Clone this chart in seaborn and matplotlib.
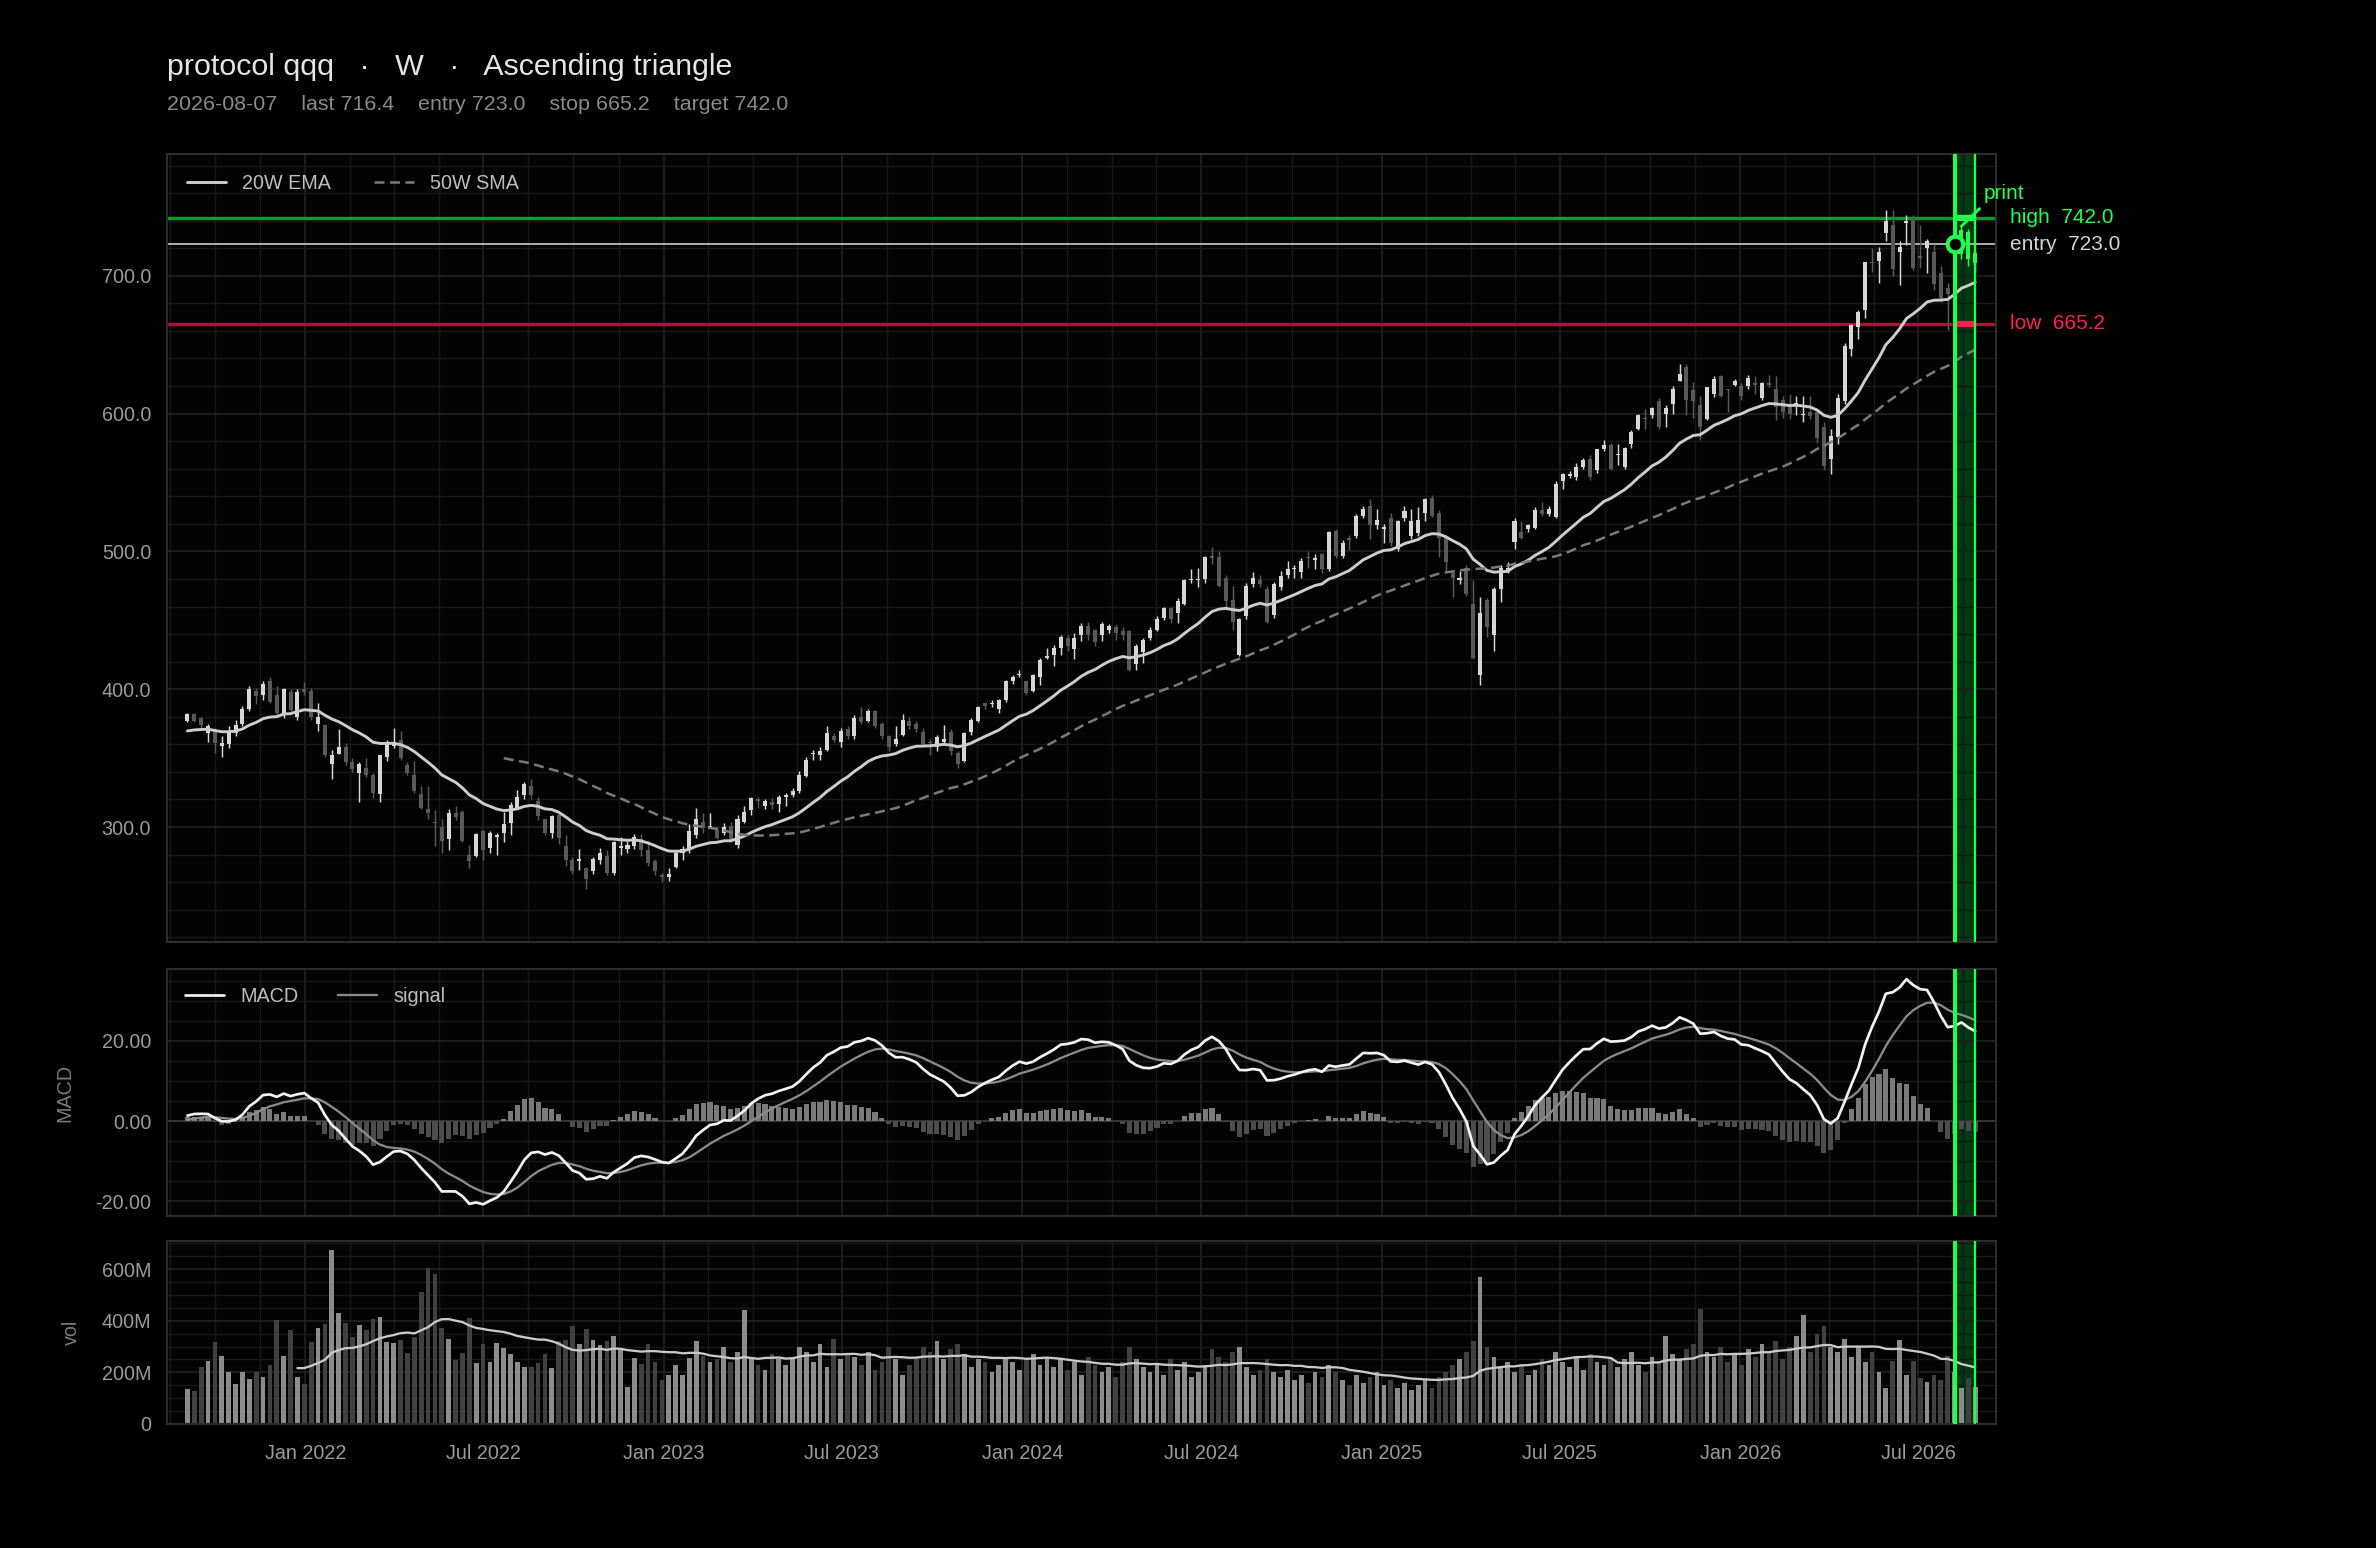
import numpy as np
import pandas as pd
import matplotlib
matplotlib.use("Agg")
import matplotlib.pyplot as plt
import matplotlib.dates as mdates
import matplotlib.transforms as mtrans
from matplotlib.ticker import FixedLocator, FuncFormatter, MultipleLocator
import seaborn as sns

# ---------------- data ----------------
SYMBOL = "protocol qqq"
TIMEFRAME = "W"
PATTERN = "Ascending triangle"
PRINT_DATE = "2026-08-07"
FIRST_WEEK = "2021-09-03"
ENTRY = 723.0
STOP = 665.2
TARGET = 742.0
LAST = 716.4
BAND_WEEKS = 3

# three weeks of history before the first drawn candle (used only by the indicators)
warmup_close = [368, 371, 370]
warmup_volume_m = [150, 140, 155]

opens = [
    377, 382, 379, 368, 369, 359, 360, 368, 375, 386,
    399, 396, 406, 396, 381, 398, 380, 400, 399, 375,
    374, 346, 353, 358, 347, 339, 343, 338, 324, 351,
    359, 363, 345, 338, 324, 313, 304, 300, 291, 310,
    311, 280, 279, 297, 285, 293, 296, 303, 314, 323,
    330, 319, 306, 296, 309, 286, 276, 275, 270, 268,
    276, 279, 267, 285, 284, 286, 291, 283, 275, 265,
    264, 271, 281, 283, 294, 304, 300, 298, 296, 301,
    287, 304, 312, 320, 315, 318, 317, 322, 323, 326,
    337, 353, 352, 356, 366, 362, 371, 366, 380, 377,
    384, 375, 366, 360, 367, 377, 375, 369, 362, 358,
    362, 369, 354, 348, 369, 377, 390, 389, 386, 392,
    406, 410, 406, 399, 409, 423, 425, 430, 437, 429,
    439, 446, 443, 439, 443, 445, 442, 442, 418, 427,
    437, 443, 452, 459, 455, 462, 479, 479, 480, 497,
    496, 481, 465, 425, 453, 476, 479, 473, 454, 474,
    483, 487, 485, 496, 494, 498, 487, 515, 497, 510,
    511, 526, 533, 519, 516, 524, 502, 524, 511, 513,
    528, 539, 528, 510, 484, 479, 488, 462, 410, 465,
    439, 473, 485, 507, 514, 516, 517, 530, 527, 525,
    551, 555, 554, 561, 567, 559, 574, 577, 570, 561,
    578, 589, 597, 599, 609, 600, 607, 624, 634, 617,
    606, 596, 614, 627, 618, 621, 620, 620, 622, 611,
    622, 618, 610, 605, 606, 599, 601, 601, 590, 567,
    583, 609, 647, 663, 675, 710, 711, 731, 737, 717,
    738, 742, 714, 720, 717, 702, 691, 688, 716, 732,
    709,
]
closes = [
    382, 377, 374, 373, 361, 361, 369, 374, 386, 400,
    395, 404, 391, 383, 400, 385, 398, 398, 380, 380,
    352, 352, 358, 347, 342, 346, 338, 325, 352, 361,
    362, 350, 339, 326, 314, 310, 303, 290, 310, 307,
    290, 275, 295, 283, 296, 294, 302, 316, 322, 331,
    323, 308, 296, 308, 292, 276, 268, 277, 262, 277,
    281, 267, 289, 286, 287, 293, 283, 274, 268, 264,
    266, 281, 284, 297, 306, 299, 301, 292, 300, 291,
    306, 311, 321, 319, 319, 316, 322, 323, 326, 338,
    349, 354, 355, 368, 363, 370, 366, 379, 376, 384,
    373, 366, 358, 364, 378, 373, 371, 360, 361, 365,
    364, 355, 346, 368, 378, 387, 388, 390, 392, 406,
    409, 411, 397, 410, 421, 424, 430, 438, 431, 437,
    446, 439, 434, 447, 446, 441, 439, 414, 431, 436,
    443, 451, 459, 451, 464, 479, 480, 480, 496, 495,
    475, 464, 449, 451, 475, 481, 476, 449, 476, 482,
    487, 488, 493, 495, 495, 487, 514, 497, 506, 508,
    526, 531, 519, 523, 518, 506, 522, 529, 522, 523,
    538, 526, 510, 492, 481, 481, 469, 423, 455, 445,
    473, 488, 488, 522, 510, 519, 530, 527, 531, 549,
    556, 556, 561, 566, 554, 574, 577, 560, 571, 575,
    587, 599, 596, 604, 590, 604, 618, 629, 610, 609,
    590, 619, 625, 613, 617, 624, 613, 626, 621, 622,
    621, 605, 601, 600, 608, 600, 598, 582, 562, 584,
    611, 649, 664, 674, 710, 709, 717, 740, 705, 721,
    740, 706, 713, 725, 694, 684, 687, 722, 733, 712,
    716.4,
]
highs = [
    383, 383, 380, 375, 372, 366, 373, 378, 388, 402,
    401, 406, 409, 402, 401, 400, 400, 405, 401, 390,
    375, 356, 371, 361, 350, 347, 350, 339, 352, 363,
    372, 370, 347, 348, 330, 330, 312, 306, 313, 315,
    312, 287, 296, 298, 297, 296, 311, 318, 327, 333,
    335, 322, 306, 309, 310, 294, 278, 284, 271, 278,
    285, 283, 290, 293, 290, 295, 295, 290, 277, 267,
    270, 283, 286, 302, 314, 310, 310, 300, 303, 304,
    309, 315, 322, 322, 320, 321, 323, 325, 328, 341,
    351, 356, 358, 373, 368, 372, 373, 381, 387, 386,
    385, 376, 367, 373, 382, 380, 377, 372, 364, 367,
    374, 371, 355, 369, 379, 388, 391, 392, 393, 407,
    410, 414, 407, 411, 423, 430, 432, 439, 439, 441,
    448, 449, 444, 449, 447, 447, 445, 443, 433, 437,
    445, 453, 460, 460, 466, 480, 487, 488, 497, 503,
    500, 483, 475, 452, 477, 485, 483, 475, 478, 486,
    493, 490, 495, 500, 498, 499, 515, 516, 508, 512,
    527, 533, 538, 531, 520, 528, 523, 533, 531, 532,
    539, 541, 530, 511, 486, 486, 490, 479, 467, 466,
    474, 490, 492, 524, 522, 520, 532, 536, 533, 551,
    557, 558, 564, 568, 570, 574, 581, 579, 578, 576,
    588, 600, 603, 605, 611, 606, 620, 636, 636, 623,
    613, 619, 627, 628, 618, 625, 622, 628, 627, 623,
    628, 627, 613, 614, 613, 613, 613, 603, 594, 589,
    614, 651, 665, 675, 710, 720, 721, 748, 748, 725,
    744, 744, 737, 727, 723, 707, 695, 726, 736, 734,
    718,
]
lows = [
    376, 376, 371, 362, 354, 351, 357, 366, 373, 384,
    389, 392, 390, 381, 379, 383, 378, 396, 378, 370,
    351, 335, 353, 345, 340, 318, 336, 321, 318, 348,
    357, 349, 338, 325, 313, 306, 286, 281, 283, 305,
    289, 270, 278, 276, 281, 280, 289, 294, 313, 320,
    320, 305, 294, 292, 288, 272, 266, 269, 255, 266,
    273, 265, 265, 280, 281, 284, 279, 272, 265, 260,
    261, 270, 276, 281, 292, 296, 299, 291, 294, 289,
    285, 303, 309, 314, 313, 313, 311, 315, 322, 325,
    336, 349, 349, 355, 362, 358, 364, 364, 375, 376,
    372, 364, 355, 359, 366, 371, 369, 359, 352, 355,
    361, 352, 343, 347, 367, 376, 386, 387, 383, 391,
    404, 409, 396, 398, 403, 422, 417, 425, 428, 422,
    435, 436, 431, 435, 441, 436, 436, 413, 414, 419,
    436, 442, 450, 448, 448, 461, 477, 474, 477, 491,
    474, 458, 443, 424, 451, 474, 474, 448, 452, 472,
    481, 481, 481, 488, 487, 484, 486, 495, 495, 501,
    510, 524, 509, 516, 506, 504, 500, 522, 509, 511,
    522, 525, 496, 485, 467, 476, 468, 422, 403, 438,
    428, 463, 484, 502, 509, 514, 516, 526, 526, 524,
    545, 553, 552, 560, 552, 557, 573, 559, 563, 560,
    575, 588, 589, 597, 589, 590, 600, 624, 599, 597,
    581, 595, 612, 612, 601, 620, 610, 618, 614, 610,
    619, 595, 597, 596, 599, 594, 596, 579, 559, 556,
    578, 607, 642, 654, 669, 703, 695, 725, 700, 693,
    722, 704, 706, 702, 690, 681, 661, 680, 712, 707,
    703,
]
volume_m = [
    136, 129, 221, 245, 318, 264, 202, 156, 202, 175,
    202, 183, 229, 403, 264, 364, 183, 156, 318, 372,
    388, 673, 430, 391, 337, 384, 364, 407, 415, 318,
    314, 326, 276, 337, 511, 604, 581, 372, 330, 249,
    276, 411, 237, 310, 241, 314, 295, 272, 241, 221,
    221, 237, 272, 218, 322, 326, 380, 310, 368, 326,
    306, 322, 341, 287, 144, 256, 233, 310, 241, 171,
    191, 229, 191, 256, 322, 264, 241,
    250, 300, 240, 280, 440, 260, 230, 210, 270, 250,
    230, 260, 300, 280, 240, 310, 220, 330, 250, 270,
    260, 230, 280, 210, 240, 300, 250, 190, 230, 260,
    300, 280, 320, 250, 290, 310, 270, 220, 250, 240,
    200, 230, 260, 240, 210, 250, 270, 230, 260, 220,
    250, 210, 240, 190, 260, 230, 200, 220, 180, 240,
    300, 250, 220, 200, 230, 190, 250, 210, 240, 180,
    200, 230, 290, 260, 240, 280, 300, 220, 190, 210,
    250, 200, 180, 210, 170, 190, 160, 200, 180, 230,
    200, 170, 150, 190, 160, 180, 200, 150, 170, 140,
    160, 130, 150, 170, 140, 180, 200, 230, 250, 280,
    320, 570, 300, 260, 220, 240, 200, 230, 190, 210,
    250, 230, 280, 240, 220, 260, 210, 270, 240, 230,
    260, 220, 250, 280, 230, 200, 260, 240, 340, 270,
    250, 290, 310, 447, 280, 260, 300, 240, 270, 230,
    290, 260, 310, 280, 320, 250, 300, 340, 423, 280,
    350, 380, 300, 280, 330, 260, 300, 240, 280, 200,
    138, 242, 327, 191, 242, 177, 164, 191, 172, 265,
    200, 138, 177, 142,
]

n = len(closes)
assert len(opens) == n and len(highs) == n and len(lows) == n and len(volume_m) == n, \
    (len(opens), len(highs), len(lows), len(closes), len(volume_m))

# ---------------- indicators ----------------
W = len(warmup_close)
dates = pd.date_range(FIRST_WEEK, periods=n, freq="7D")
full_close = pd.Series(warmup_close + closes, dtype=float)
full_vol = pd.Series(warmup_volume_m + volume_m, dtype=float) * 1e6

ema20 = full_close.ewm(span=20, adjust=False).mean().values[W:]
sma50 = full_close.rolling(50).mean().values[W:]
ema12 = full_close.ewm(span=12, adjust=False).mean()
ema26 = full_close.ewm(span=26, adjust=False).mean()
macd_full = ema12 - ema26
signal_full = macd_full.ewm(span=9, adjust=False).mean()
macd = macd_full.values[W:]
signal = signal_full.values[W:]
hist = macd - signal
vol = full_vol.values[W:]
vma20 = full_vol.rolling(20).mean().values[W:]

o = np.array(opens, float)
c = np.array(closes, float)
h = np.array(highs, float)
l = np.array(lows, float)

print_ts = pd.Timestamp(PRINT_DATE)
band_end = print_ts + pd.Timedelta(weeks=BAND_WEEKS)
in_print = dates >= print_ts

# ---------------- style ----------------
sns.set_theme(style="dark")
plt.rcParams["font.family"] = ["Liberation Sans", "DejaVu Sans"]

BG = "#000000"
PANEL = "#030303"
GRID_MAJ = "#202020"
GRID_MIN = "#171717"
SPINE = "#2c2c2c"
TICK = "#9a9a9a"
UP = "#d6d6d6"
DOWN = "#595959"
GREEN = "#1fff4c"
GREEN_DARK = "#12992e"
RED = "#ff1f4f"
RED_DARK = "#a8133a"
BAND_FILL = "#003a12"

fig = plt.figure(figsize=(15.84, 10.32), dpi=150, facecolor=BG)
L, Wd = 0.0702, 0.7698
ax = fig.add_axes([L, 0.3914, Wd, 0.5088])
axm = fig.add_axes([L, 0.2143, Wd, 0.1595], sharex=ax)
axv = fig.add_axes([L, 0.0802, Wd, 0.1184], sharex=ax)

majors = pd.date_range("2021-07-01", "2027-01-01", freq="6MS")
maj_num = mdates.date2num(majors)
minor_num = []
for a_, b_ in zip(maj_num[:-1], maj_num[1:]):
    minor_num += list(np.linspace(a_, b_, 5)[1:-1])

for a in (ax, axm, axv):
    a.set_facecolor(PANEL)
    a.set_axisbelow(True)
    for s in a.spines.values():
        s.set_color(SPINE)
        s.set_linewidth(1.0)
    a.xaxis.set_major_locator(FixedLocator(maj_num))
    a.xaxis.set_minor_locator(FixedLocator(minor_num))
    a.grid(which="major", color=GRID_MAJ, lw=0.8)
    a.grid(which="minor", color=GRID_MIN, lw=0.7)
    a.tick_params(which="major", colors="#555555", labelcolor=TICK, labelsize=9.5,
                  length=4, width=1.0)
    a.tick_params(which="minor", length=0)
    # print band
    a.axvspan(print_ts, band_end, color=BAND_FILL, zorder=0.2, lw=0)

axv.xaxis.set_major_formatter(mdates.DateFormatter("%b %Y"))
axv.tick_params(axis="x", pad=5.5)
ax.tick_params(labelbottom=False)
axm.tick_params(labelbottom=False)

# ---------------- price panel ----------------
ax.axhline(TARGET, color=GREEN_DARK, lw=1.6, zorder=1)
ax.axhline(ENTRY, color="#b4b4b4", lw=0.9, zorder=1)
ax.axhline(STOP, color=RED_DARK, lw=1.6, zorder=1)

cols = np.where(in_print, GREEN, np.where(c >= o, UP, DOWN))
ax.vlines(dates, l, h, colors=cols, lw=0.7, zorder=3)
body_lo = np.minimum(o, c)
body_h = np.maximum(np.abs(c - o), 0.9)
ax.bar(dates, body_h, bottom=body_lo, width=4.1, color=cols, lw=0, zorder=3)

sns.lineplot(x=dates, y=ema20, ax=ax, color="#cdcdcd", lw=1.4, label="20W EMA", zorder=4)
sns.lineplot(x=dates, y=sma50, ax=ax, color="#7a7a7a", lw=1.2, label="50W SMA", zorder=4)
ax.lines[-1].set_dashes((4, 2.2))

ax.set_ylim(216.5, 788)
ax.yaxis.set_major_locator(MultipleLocator(100))
ax.yaxis.set_minor_locator(MultipleLocator(20))
ax.yaxis.set_major_formatter(FuncFormatter(lambda v, p: f"{v:.1f}"))
ax.set_xlabel("")
ax.set_ylabel("")

ax.legend(loc="upper left", frameon=False, ncol=2, fontsize=9.5, labelcolor="#bdbdbd",
          handlelength=2.0, columnspacing=2.2, borderaxespad=0.6)

# band details
ax.plot([print_ts, band_end], [TARGET, TARGET], color=GREEN, lw=3.0, zorder=5,
        solid_capstyle="butt")
ax.plot([print_ts, band_end], [STOP, STOP], color=RED, lw=3.0, zorder=5,
        solid_capstyle="butt")
ax.plot([print_ts], [ENTRY], marker="o", ms=7.5, mfc="#000000", mec=GREEN, mew=2.0, zorder=7)

blend = mtrans.blended_transform_factory(ax.transAxes, ax.transData)
ax.text(1.0075, TARGET, f"high  {TARGET:.1f}", transform=blend, color=GREEN, fontsize=10,
        va="center", ha="left")
ax.text(1.0075, ENTRY, f"entry  {ENTRY:.1f}", transform=blend, color="#d2d2d2", fontsize=10,
        va="center", ha="left")
ax.text(1.0075, STOP, f"low  {STOP:.1f}", transform=blend, color=RED, fontsize=10,
        va="center", ha="left")
i_arrow = int(np.argmax(in_print)) + 1
ax.annotate("print", xy=(dates[i_arrow], h[i_arrow]), xycoords="data",
            xytext=(0.9934, TARGET + 18), textcoords=blend, color=GREEN, fontsize=10,
            ha="left", va="center", annotation_clip=False, zorder=8,
            arrowprops=dict(arrowstyle="-", color=GREEN, lw=1.4, shrinkA=1, shrinkB=0,
                            relpos=(0.05, 0.0)))

# ---------------- MACD panel ----------------
axm.axhline(0, color="#363636", lw=0.9, zorder=1)
hcols = np.where(hist >= 0, "#7a7a7a", "#4d4d4d")
axm.bar(dates, hist, width=5.2, color=hcols, lw=0, zorder=2)
sns.lineplot(x=dates, y=macd, ax=axm, color="#f2f2f2", lw=1.3, label="MACD", zorder=4)
sns.lineplot(x=dates, y=signal, ax=axm, color="#8a8a8a", lw=1.1, label="signal", zorder=3)
axm.set_ylim(-23.7, 37.8)
axm.yaxis.set_major_locator(MultipleLocator(20))
axm.yaxis.set_minor_locator(MultipleLocator(5))
axm.yaxis.set_major_formatter(FuncFormatter(lambda v, p: f"{v:.2f}"))
axm.set_xlabel("")
axm.set_ylabel("MACD", color="#7a7a7a", fontsize=9.5)
axm.yaxis.set_label_coords(-0.0505, 0.5)
axm.legend(loc="upper left", frameon=False, ncol=2, fontsize=9.5, labelcolor="#bdbdbd",
           handlelength=2.0, columnspacing=2.0, borderaxespad=0.5)

# ---------------- volume panel ----------------
vcols = np.where(c >= o, "#8c8c8c", "#404040")
axv.bar(dates, vol, width=4.8, color=vcols, lw=0, zorder=2)
sns.lineplot(x=dates, y=vma20, ax=axv, color="#cacaca", lw=1.1, zorder=4, legend=False)
axv.set_ylim(0, 711e6)
axv.yaxis.set_major_locator(MultipleLocator(200e6))
axv.yaxis.set_minor_locator(MultipleLocator(50e6))
axv.yaxis.set_major_formatter(FuncFormatter(lambda v, p: "0" if abs(v) < 1 else f"{v/1e6:.0f}M"))
axv.set_xlabel("")
axv.set_ylabel("vol", color="#7a7a7a", fontsize=9.5)
axv.yaxis.set_label_coords(-0.047, 0.5)

# band edge lines on all panels
for a in (ax, axm, axv):
    a.axvline(print_ts, color=GREEN, lw=1.9, zorder=6)
    a.axvline(band_end, color=GREEN, lw=1.1, zorder=6)

ax.set_xlim(dates[0] - pd.Timedelta(weeks=3), dates[-1] + pd.Timedelta(weeks=3))

# ---------------- titles ----------------
fig.text(L, 0.9565, f"{SYMBOL}   ·   {TIMEFRAME}   ·   {PATTERN}", color="#e4e4e4",
         fontsize=14.6, va="center", ha="left")
fig.text(L, 0.9325,
         f"{PRINT_DATE}    last {LAST:.1f}    entry {ENTRY:.1f}    stop {STOP:.1f}    target {TARGET:.1f}",
         color="#8a8a8a", fontsize=10.25, va="center", ha="left")

fig.savefig("out.png", dpi=150, facecolor=BG)
